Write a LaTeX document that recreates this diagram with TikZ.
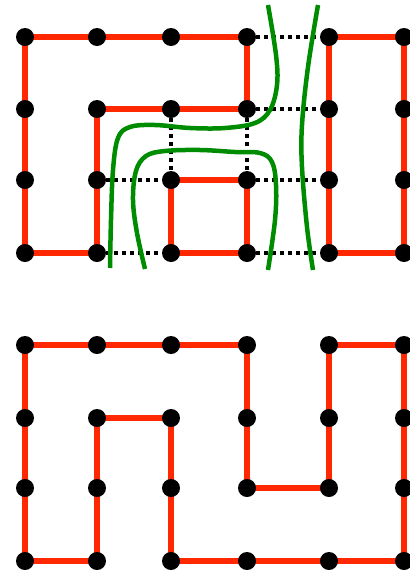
\documentclass[tikz,border=0pt]{standalone}
\usetikzlibrary{backgrounds}
\definecolor{edgered}{RGB}{255,40,0}
\definecolor{cutgreen}{RGB}{0,140,0}
\begin{document}
\begin{tikzpicture}[
    x=1pt,
    y=-1pt,
    dot/.style={
        circle,
        fill=black,
        inner sep=0pt,
        minimum size=18pt
    },
    link/.style={
        draw=edgered,
        line width=6.5pt
    },
    gap/.style={
        draw=black,
        line width=3.5pt,
        dash pattern=on 3.5pt off 4.5pt
    },
    cut/.style={
        draw=cutgreen,
        line width=4.5pt
    }
]
\useasboundingbox (0,0) rectangle (410,571);

% Grid points
\foreach \c/\x in {0/25,1/97,2/171,3/247,4/329,5/404} {
    \foreach \r/\y in {0/37,1/109,2/180,3/253}
        \node [dot] (t\c\r) at (\x,\y) {};
    \foreach \r/\y in {0/345,1/418,2/488,3/561}
        \node [dot] (b\c\r) at (\x,\y) {};
}

\begin{scope}[on background layer]
% Upper grid: three cycles
\draw [link] (t00.center) -- (t10.center) -- (t20.center) -- (t30.center)
    -- (t31.center) -- (t21.center) -- (t11.center) -- (t12.center)
    -- (t13.center) -- (t03.center) -- (t02.center) -- (t01.center) -- cycle;
\draw [link] (t22.center) -- (t32.center) -- (t33.center) -- (t23.center) -- cycle;
\draw [link] (t40.center) -- (t50.center) -- (t51.center) -- (t52.center)
    -- (t53.center) -- (t43.center) -- (t42.center) -- (t41.center) -- cycle;

% Upper grid: unused edges
\draw [gap] (t30) -- (t40);
\draw [gap] (t31) -- (t41);
\draw [gap] (t21) -- (t22);
\draw [gap] (t31) -- (t32);
\draw [gap] (t12) -- (t22);
\draw [gap] (t32) -- (t42);
\draw [gap] (t13) -- (t23);
\draw [gap] (t33) -- (t43);

% Lower grid: one cycle
\draw [link] (b00.center) -- (b10.center) -- (b20.center) -- (b30.center)
    -- (b31.center) -- (b32.center) -- (b42.center) -- (b41.center)
    -- (b40.center) -- (b50.center) -- (b51.center) -- (b52.center)
    -- (b53.center) -- (b43.center) -- (b33.center) -- (b23.center)
    -- (b22.center) -- (b21.center) -- (b11.center) -- (b12.center)
    -- (b13.center) -- (b03.center) -- (b02.center) -- (b01.center) -- cycle;
\end{scope}

% Cuts
\draw [cut] plot [smooth, tension=0.6] coordinates {
    (268,5) (276,55) (277,85) (270,110) (255,123) (225,128) (190,128)
    (155,125) (130,127) (118,138) (113,170) (111,220) (110,268)};
\draw [cut] plot [smooth, tension=0.6] coordinates {
    (145,269) (137,233) (133,200) (136,171) (146,156) (165,151) (200,150)
    (235,152) (260,153) (272,162) (276,185) (275,220) (268,270)};
\draw [cut] plot [smooth, tension=0.6] coordinates {
    (318,5) (308,67) (302,125) (302,167) (307,227) (313,270)};

\end{tikzpicture}
\end{document}
